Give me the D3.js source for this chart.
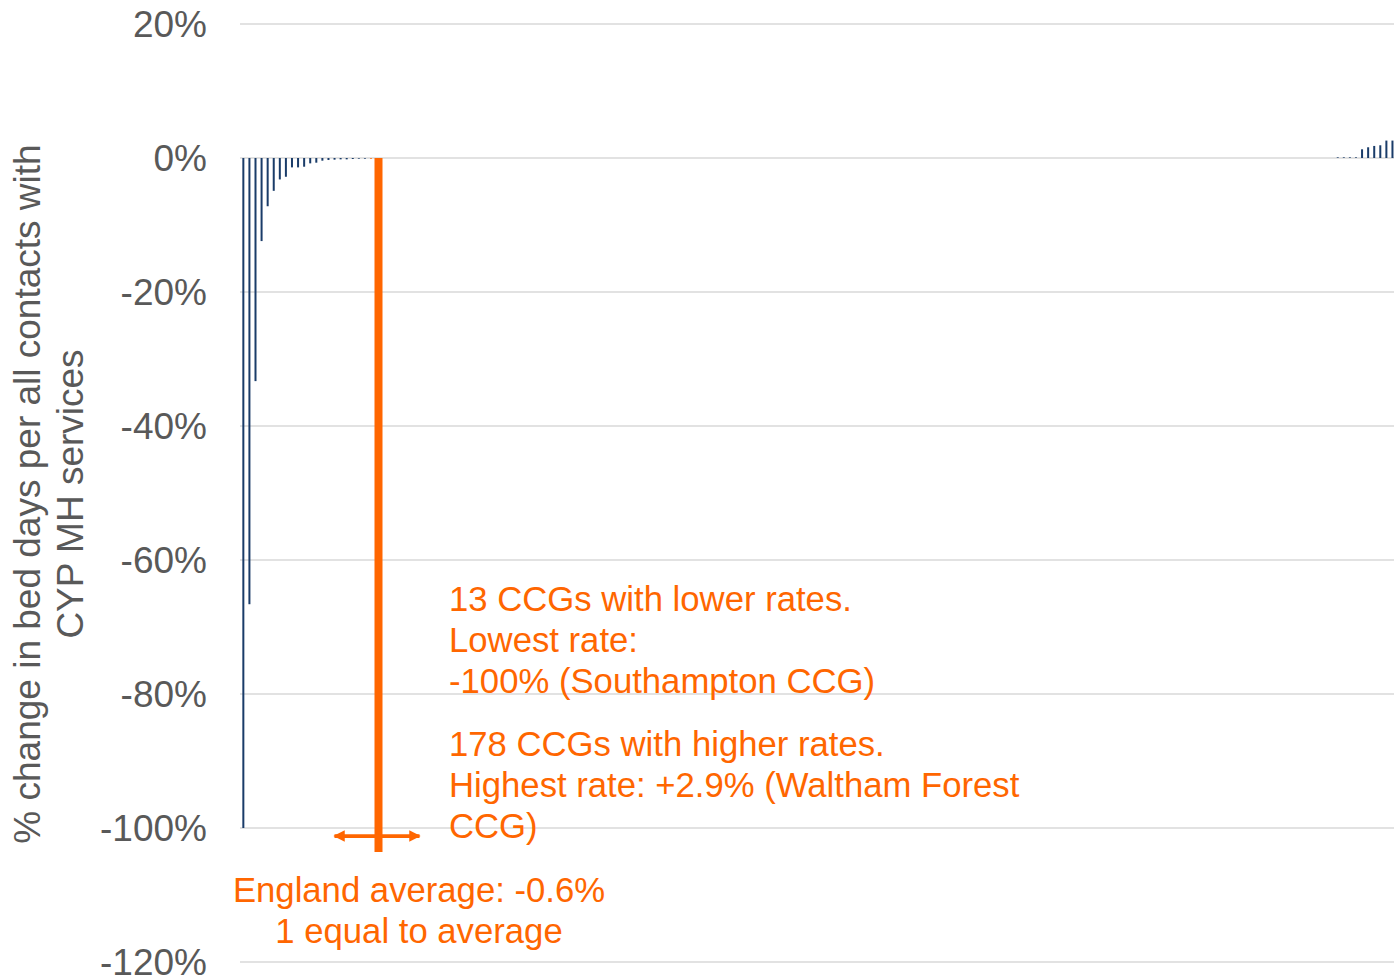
<!DOCTYPE html>
<html><head><meta charset="utf-8">
<script src="https://cdn.jsdelivr.net/npm/d3@7"></script>
<style>html,body{margin:0;padding:0;background:#fff;}svg{display:block;font-family:"Liberation Sans",Arial,sans-serif;}</style>
</head><body><svg id="c" width="1394" height="976"></svg>
<script>
// ---- data (% change per CCG, sorted) ----
const lowerValues = [-100, -66.6, -33.3, -12.4, -7.2, -4.9, -3.2, -2.8, -1.4, -1.4, -1.3, -0.8, -0.7, -0.4, -0.3, -0.25, -0.2, -0.2, -0.15, -0.1, -0.1, -0.1];
const middleValues = [
  0,0,0,0,0,0,0,0,0,0,0,0,0,0,0,0,0,0,0,0,
  0,0,0,0,0,0,0,0,0,0,0,0,0,0,0,0,0,0,0,0,
  0,0,0,0,0,0,0,0,0,0,0,0,0,0,0,0,0,0,0,0,
  0,0,0,0,0,0,0,0,0,0,0,0,0,0,0,0,0,0,0,0,
  0,0,0,0,0,0,0,0,0,0,0,0,0,0,0,0,0,0,0,0,
  0,0,0,0,0,0,0,0,0,0,0,0,0,0,0,0,0,0,0,0,
  0,0,0,0,0,0,0,0,0,0,0,0,0,0,0,0,0,0,0,0,
  0,0,0,0,0,0,0,0,0,0,0,0,0,0,0,0,0,0
];
const upperValues = [0.1, 0.1, 0.1, 0.1, 1.3, 1.6, 1.8, 1.9, 2.6, 2.6];
const values = lowerValues.concat(middleValues, upperValues);
const categories = values.map((v, i) => i);
const highlightIndex = 21;      // bar drawn in orange
const averageIndex = 22;        // position of England average marker
const yTicks = [20, 0, -20, -40, -60, -80, -100, -120];
const yTickLabels = ["20%", "0%", "-20%", "-40%", "-60%", "-80%", "-100%", "-120%"];
const yTitle = ["% change in bed days per all contacts with", "CYP MH services"];
const noteLower = ["13 CCGs with lower rates.", "Lowest rate:", "-100% (Southampton CCG)"];
const noteHigher = ["178 CCGs with higher rates.", "Highest rate: +2.9% (Waltham Forest", "CCG)"];
const noteAverage = ["England average: -0.6%", "1 equal to average"];

// ---- drawing ----
const svg = d3.select("#c");
const ORANGE = "#FF6600", NAVY = "#1A3C69", GREY = "#595959";
const y = d3.scaleLinear().domain([-120, 20]).range([962, 24]);
const x = d3.scaleBand().domain(categories).range([240.3, 1395.5]).padding(0);
const bw = x.bandwidth();

svg.append("g").selectAll("line").data(yTicks).join("line")
  .attr("x1", 240).attr("x2", 1394)
  .attr("y1", d => y(d)).attr("y2", d => y(d))
  .attr("stroke", "#d9d9d9").attr("stroke-width", 1.6);

svg.append("g").selectAll("text").data(yTicks).join("text")
  .attr("x", 207).attr("y", d => y(d)).attr("dy", "0.36em")
  .attr("text-anchor", "end").attr("font-size", 37).attr("fill", GREY)
  .text((d, i) => yTickLabels[i]);

svg.append("g").selectAll("rect").data(values).join("rect")
  .attr("x", (d, i) => x(i) + bw / 2 - 1)
  .attr("width", 2)
  .attr("y", d => Math.min(y(d), y(0)))
  .attr("height", d => Math.abs(y(d) - y(0)))
  .attr("fill", (d, i) => i === highlightIndex ? ORANGE : NAVY);

// axis title
const tg = svg.append("g").attr("transform", "rotate(-90)");
tg.selectAll("text").data(yTitle).join("text")
  .attr("x", -494).attr("y", (d, i) => 40 + i * 43)
  .attr("text-anchor", "middle").attr("font-size", 37).attr("fill", GREY)
  .text(d => d);

// England average marker
const ax = x(averageIndex) + bw / 2 + 1.4;
svg.append("defs").html(
  '<marker id="ah" viewBox="0 0 10 10" refX="9" refY="5" markerWidth="3" markerHeight="3" orient="auto-start-reverse"><path d="M0,0L10,5L0,10z" fill="' + ORANGE + '"/></marker>');
svg.append("line").attr("x1", ax).attr("x2", ax)
  .attr("y1", y(0)).attr("y2", y(-103.6))
  .attr("stroke", ORANGE).attr("stroke-width", 8);
svg.append("line").attr("x1", ax - 44).attr("x2", ax + 41)
  .attr("y1", y(-101.2)).attr("y2", y(-101.2))
  .attr("stroke", ORANGE).attr("stroke-width", 3.8)
  .attr("marker-start", "url(#ah)").attr("marker-end", "url(#ah)");

// annotations
const ann = svg.append("g").attr("font-size", 34.7).attr("fill", ORANGE);
ann.selectAll("text.l").data(noteLower).join("text").attr("class", "l")
  .attr("x", 449).attr("y", (d, i) => 611 + i * 41).text(d => d);
ann.selectAll("text.h").data(noteHigher).join("text").attr("class", "h")
  .attr("x", 449).attr("y", (d, i) => 756 + i * 41).text(d => d);
ann.selectAll("text.a").data(noteAverage).join("text").attr("class", "a")
  .attr("x", 419).attr("text-anchor", "middle")
  .attr("y", (d, i) => 902 + i * 41).text(d => d);
</script></body></html>
